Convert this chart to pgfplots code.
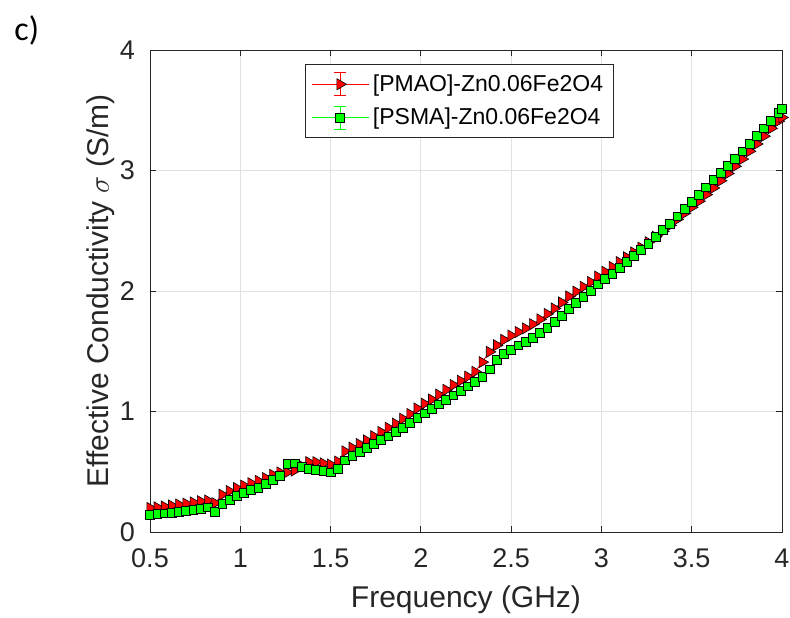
\documentclass[border=0pt]{standalone}
\usepackage{pgfplots}
\usepackage{pgfplotstable}
\pgfplotsset{compat=1.18}
\usepackage{fontspec}
\setmainfont{Liberation Sans}
\newfontfamily\calibri{Carlito}
\definecolor{axgray}{RGB}{38,38,38}
\definecolor{gridgray}{RGB}{225,225,225}
\definecolor{mred}{RGB}{255,0,0}
\definecolor{mgreen}{RGB}{0,255,0}

\pgfplotsset{ebleg/.style={legend image code/.code={
   \draw[##1,mark=none] (0.5cm,-0.2cm) -- (0.5cm,0.2cm);
   \draw[##1,mark=none] (0.39cm,-0.2cm) -- (0.61cm,-0.2cm);
   \draw[##1,mark=none] (0.39cm,0.2cm) -- (0.61cm,0.2cm);
   \draw[mark repeat=2,mark phase=2,##1] plot coordinates {(0cm,0cm) (0.5cm,0cm) (1cm,0cm)};
}}}

\pgfplotstableread{
f pmao psma
0.50 0.200 0.140
0.54 0.205 0.148
0.58 0.212 0.155
0.62 0.220 0.162
0.66 0.228 0.170
0.70 0.236 0.178
0.74 0.246 0.186
0.78 0.256 0.195
0.82 0.262 0.205
0.86 0.240 0.168
0.90 0.310 0.235
0.94 0.340 0.270
0.98 0.365 0.300
1.02 0.385 0.325
1.06 0.405 0.348
1.10 0.425 0.370
1.14 0.448 0.398
1.18 0.475 0.430
1.22 0.495 0.465
1.26 0.495 0.565
1.30 0.510 0.570
1.34 0.550 0.540
1.38 0.580 0.525
1.42 0.580 0.515
1.46 0.570 0.505
1.50 0.560 0.495
1.54 0.585 0.525
1.58 0.670 0.595
1.62 0.700 0.632
1.66 0.730 0.668
1.70 0.760 0.700
1.74 0.795 0.730
1.78 0.830 0.762
1.82 0.865 0.795
1.86 0.900 0.830
1.90 0.940 0.868
1.94 0.980 0.905
1.98 1.025 0.945
2.02 1.065 0.985
2.06 1.100 1.020
2.10 1.140 1.060
2.14 1.180 1.095
2.18 1.220 1.135
2.22 1.255 1.170
2.26 1.290 1.210
2.30 1.330 1.245
2.34 1.410 1.290
2.38 1.495 1.350
2.42 1.550 1.430
2.46 1.595 1.480
2.50 1.630 1.515
2.54 1.660 1.550
2.58 1.690 1.580
2.62 1.725 1.615
2.66 1.765 1.650
2.70 1.810 1.695
2.74 1.855 1.745
2.78 1.905 1.795
2.82 1.955 1.850
2.86 1.995 1.905
2.90 2.035 1.955
2.94 2.075 2.005
2.98 2.120 2.055
3.02 2.160 2.100
3.06 2.200 2.145
3.10 2.240 2.190
3.14 2.280 2.240
3.18 2.320 2.290
3.22 2.360 2.345
3.26 2.405 2.395
3.30 2.450 2.450
3.34 2.495 2.505
3.38 2.545 2.560
3.42 2.595 2.620
3.46 2.645 2.680
3.50 2.695 2.740
3.54 2.745 2.800
3.58 2.800 2.860
3.62 2.855 2.920
3.66 2.915 2.980
3.70 2.975 3.040
3.74 3.035 3.100
3.78 3.095 3.160
3.82 3.160 3.220
3.86 3.220 3.285
3.90 3.285 3.350
3.94 3.350 3.415
3.98 3.410 3.480
4.00 3.440 3.515
}\data

\begin{document}
\begin{tikzpicture}
\useasboundingbox (-75pt,-42.5pt) rectangle (320pt,266pt);
\begin{axis}[
  at={(0,0)}, anchor=south west,
  scale only axis, width=316pt, height=241pt,
  xmin=0.5, xmax=4, ymin=0, ymax=4,
  xtick={0.5,1,1.5,2,2.5,3,3.5,4}, ytick={0,1,2,3,4},
  tick align=inside, major tick length=3pt,
  tick style={axgray, line width=0.4pt},
  axis line style={axgray, line width=0.5pt},
  grid=major, grid style={gridgray, line width=0.4pt},
  tick label style={font=\fontsize{13.5}{16}\selectfont, text=axgray},
  xticklabel style={yshift=-5pt},
  yticklabel style={xshift=-4pt},
  /pgf/number format/assume math mode=true,
  label style={font=\fontsize{15}{18}\selectfont, text=axgray},
  xlabel={Frequency (GHz)},
  ylabel={Effective Conductivity $\sigma$ (S/m)},
  xlabel style={at={(0.5,-0.141)}, anchor=center},
  ylabel style={at={(-0.0775,0.5)}, anchor=center},
  legend style={at={(0.245,0.971)}, anchor=north west,
    font=\fontsize{11.5}{13}\selectfont, draw=axgray, line width=0.4pt,
    fill=white, cells={anchor=west}, inner sep=3pt, row sep=3pt},
  clip=false,
]
\addplot[mred, line width=0.4pt, mark=triangle*, mark size=3.2pt,
  mark options={rotate=-90, fill=mred, draw=black, line width=0.3pt, solid}, ebleg]
  table[x=f, y=pmao] {\data};
\addlegendentry{[PMAO]-Zn0.06Fe2O4}
\addplot[mgreen, line width=0.4pt, mark=square*, mark size=2.2pt,
  mark options={fill=mgreen, draw=black, line width=0.3pt, solid}, ebleg]
  table[x=f, y=psma] {\data};
\addlegendentry{[PSMA]-Zn0.06Fe2O4}
\node[font=\calibri\fontsize{17}{20}\selectfont, text=black] at (rel axis cs:-0.195,1.041) {c)};
\end{axis}
\end{tikzpicture}
\end{document}
